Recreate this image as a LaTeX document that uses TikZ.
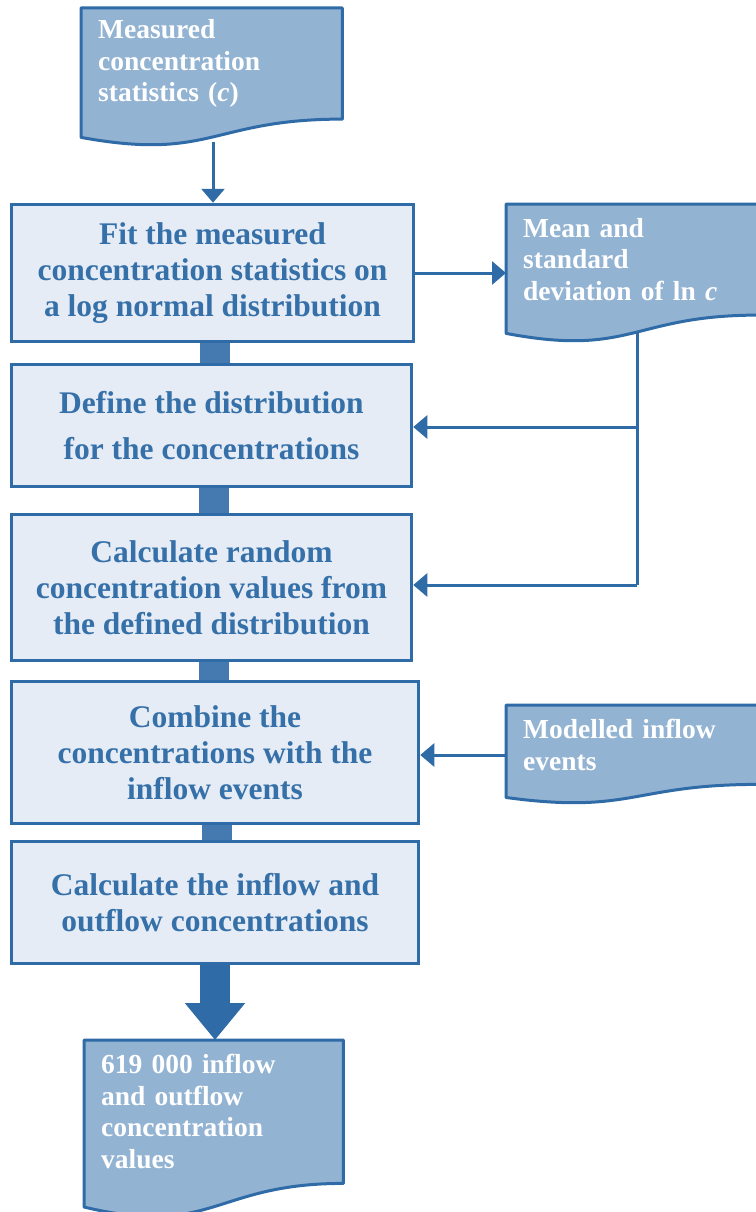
\documentclass[tikz,border=0pt]{standalone}
\usepackage{fontspec}
\setmainfont{Liberation Serif}
\usetikzlibrary{arrows.meta,calc,backgrounds}
\definecolor{boxline}{HTML}{2F6BA6}
\definecolor{boxfill}{HTML}{E5ECF5}
\definecolor{boxtext}{HTML}{3670A9}
\definecolor{docfill}{HTML}{93B3D3}
\tikzset{
  stepbox/.style={draw=boxline,line width=3.5pt,fill=boxfill,text=boxtext,
    font=\fontsize{31.5}{36}\selectfont\bfseries,align=center,inner sep=0pt,
    minimum width=#1},
  docbox/.style={text=white,font=\fontsize{27.5}{31.5}\selectfont\bfseries,
    align=left,inner xsep=17pt,inner ysep=0pt,text width=#1-34pt,anchor=north west},
  docline/.style={draw=boxline,line width=3pt,fill=docfill,line join=round},
  flow/.style={draw=boxline,line width=3pt,-{Triangle[width=23pt,length=14pt]}},
  link/.style={draw=boxline!90!white,line width=30pt},
  bigflow/.style={draw=boxline,line width=30pt,-{Triangle[width=58pt,length=37pt]}}
}
% document shape with a wavy bottom edge
\newcommand{\docwave}[1]{%
  \begin{pgfonlayer}{background}
  \draw[docline] let \p1=($(#1.north)-(#1.south)$) in
    (#1.north west) -- (#1.north east) -- (#1.south east)
    .. controls (#1.south) and ($(#1.south)+(0,-0.380*\y1)$) ..
    ($(#1.south west)+(0,-0.1646*\y1)$) -- cycle;
  \end{pgfonlayer}}
\begin{document}
\begin{tikzpicture}[x=1pt,y=-1pt]
\useasboundingbox (0,0) rectangle (755,1212);
% input and output documents
\node[docbox=261pt,minimum height=110.7pt] (meas) at (81,8) {Measured\\concentration\\statistics (\textit{c})};
\node[docbox=252pt,minimum height=110.7pt] (stats) at (506,204) {Mean and\\standard\\deviation of ln \textit{c}};
\node[docbox=252pt,minimum height=79pt] (inflow) at (506,705) {Modelled inflow\\events};
\node[docbox=259pt,minimum height=143pt] (result) at (84,1040) {619 000 inflow\\and outflow\\concentration\\values};
\docwave{meas}\docwave{stats}\docwave{inflow}\docwave{result}
% process steps
\node[stepbox=402pt,minimum height=137pt] (fit) at (212.5,273) {Fit the measured\\concentration statistics on\\a log normal distribution};
\node[stepbox=400pt,minimum height=122pt] (define) at (211.5,425.5) {Define the distribution\\[10pt]for the concentrations};
\node[stepbox=400pt,minimum height=146pt] (random) at (211.5,587.5) {Calculate random\\concentration values from\\the defined distribution};
\node[stepbox=407pt,minimum height=142pt] (combine) at (215,752.5) {Combine the\\concentrations with the\\inflow events};
\node[stepbox=407pt,minimum height=122pt] (calc) at (215,902.5) {Calculate the inflow and\\outflow concentrations};
% connectors
\coordinate (measout) at (213,142);
\coordinate (statsout) at (637,331);
\coordinate (split) at (637,585);
\draw[flow] (measout) -- (measout |- fit.north);
\draw[flow] (fit.east |- 0,273) -- (stats.west |- 0,273);
\draw[boxline,line width=3pt] (statsout) -- (split);
\draw[flow] (split |- 0,427) -- (define.east |- 0,427);
\draw[flow] (split) -- (random.east |- split);
\draw[flow] (inflow.west |- 0,755) -- (combine.east |- 0,755);
\foreach \a/\b in {fit/define,define/random,random/combine,combine/calc}
  \draw[link] ([xshift=2pt]\a.south) -- ([xshift=2pt]\a.south |- \b.north);
\draw[bigflow] (calc.south) -- (calc.south |- result.north);
\end{tikzpicture}
\end{document}
